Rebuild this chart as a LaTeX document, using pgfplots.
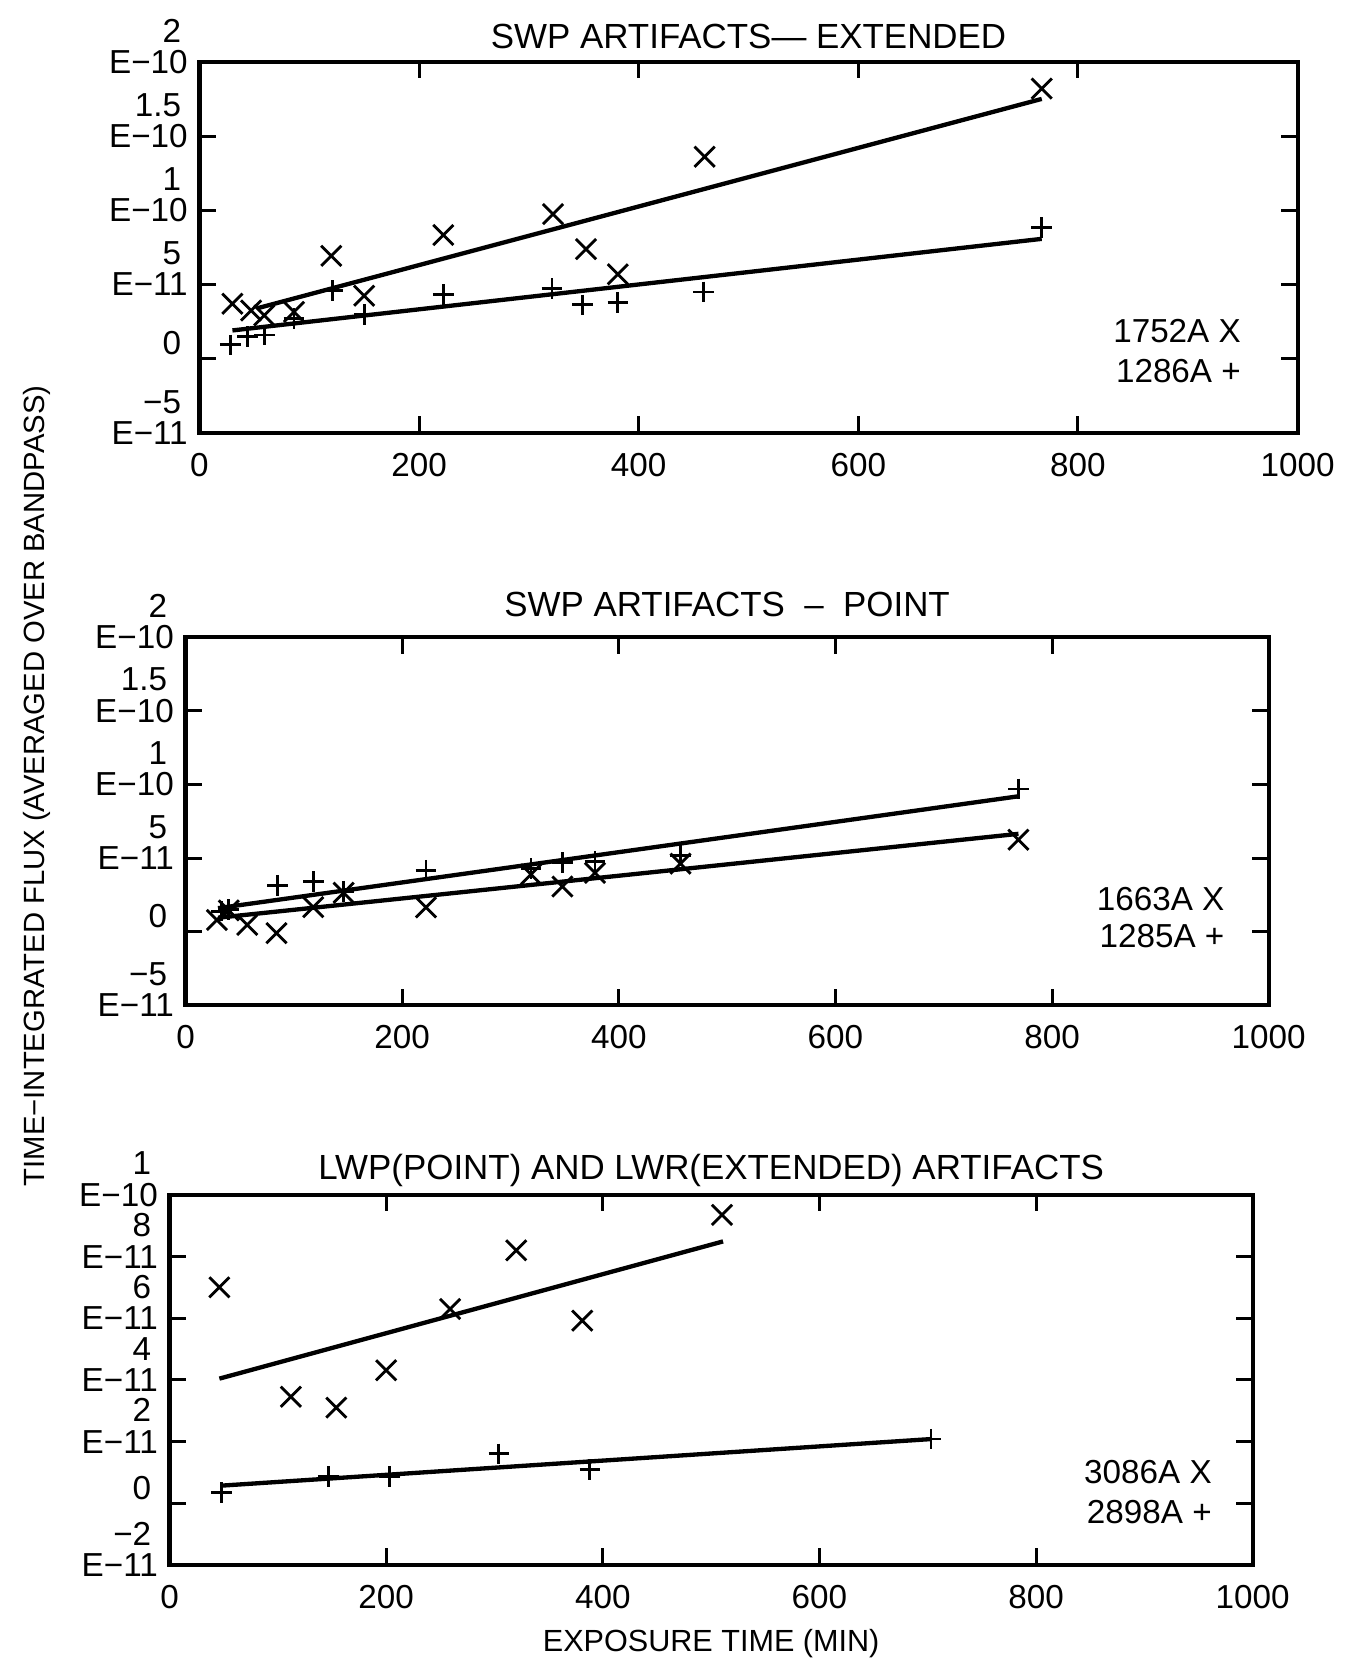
\documentclass[border=0pt]{standalone}
\usepackage{fontspec}
\setmainfont{Liberation Sans}
\usepackage{pgfplots}
\pgfplotsset{compat=1.18}

\newcommand{\tfont}{\fontsize{10.5}{12}\selectfont}
\newcommand{\lfont}{\fontsize{10}{9.4}\selectfont}

\pgfplotsset{
  panel/.style={
    scale only axis,
    anchor=south west,
    xmin=0, xmax=1000,
    xtick={0,200,400,600,800,1000},
    xticklabels={0,200,400,600,800,1000},
    tick align=inside,
    major tick length=5pt,
    axis line style={line width=1.25pt},
    tick style={line width=0.9pt, black},
    tick label style={font=\lfont},
    xticklabel style={yshift=-2.5pt},
    yticklabel style={align=right, yshift=4.7pt},
    clip=false,
  },
  xser/.style={only marks, mark=x, mark size=4.3pt, mark options={line width=0.85pt}, black},
  pser/.style={only marks, mark=+, mark size=3.1pt, mark options={line width=0.85pt}, black},
  fit/.style={line width=1.3pt, black, no marks},
}

\begin{document}
\begin{tikzpicture}
\path (0,0) rectangle (401.1pt,500.7pt);
\node[rotate=90, font=\fontsize{8.8}{10}\selectfont] at (11.1pt,264.3pt) {TIME−INTEGRATED FLUX (AVERAGED OVER BANDPASS)};

% ---------------- Panel 1 ----------------
\begin{axis}[panel, at={(60pt,370.5pt)}, width=330.3pt, height=111.6pt,
  ymin=-5, ymax=20, ytick={-5,0,5,10,15,20},
  yticklabels={{−5\hspace*{2pt}\\E−11},{0\hspace*{2pt}},{5\hspace*{2pt}\\E−11},{1\hspace*{2pt}\\E−10},{1.5\hspace*{2pt}\\E−10},{2\hspace*{2pt}\\E−10}}]
\addplot[xser] coordinates {(30,3.7) (47,3.24) (59,2.91) (86,3.15) (120,6.93) (150,4.24) (222,8.33) (322,9.74) (352,7.38) (381,5.68) (460,13.6) (767,18.2)};
\addplot[pser] coordinates {(28,0.93) (44,1.48) (59,1.59) (86,2.7) (121,4.6) (150,2.97) (222,4.32) (321,4.73) (349,3.62) (381,3.8) (459,4.49) (767,8.83)};
\addplot[fit] coordinates {(53,3.4) (767,17.5)};
\addplot[fit] coordinates {(30,1.9) (767,8.07)};
\node[font=\tfont] at (rel axis cs:0.5,1) [yshift=7.5pt] {SWP ARTIFACTS— EXTENDED};
\node[anchor=east, font=\lfont] at (rel axis cs:0.959,0.274) {1752A X};
\node[anchor=east, font=\lfont] at (rel axis cs:0.959,0.166) {1286A +};
\end{axis}

% ---------------- Panel 2 ----------------
\begin{axis}[panel, at={(55.8pt,198.3pt)}, width=325.8pt, height=110.7pt,
  ymin=-5, ymax=20, ytick={-5,0,5,10,15,20},
  yticklabels={{−5\hspace*{2pt}\\E−11},{0\hspace*{2pt}},{5\hspace*{2pt}\\E−11},{1\hspace*{2pt}\\E−10},{1.5\hspace*{2pt}\\E−10},{2\hspace*{2pt}\\E−10}}]
\addplot[xser] coordinates {(29,0.8) (40,1.45) (57,0.46) (84,-0.1) (118,1.67) (146,2.65) (222,1.65) (319,3.9) (348,3.07) (378,4.0) (457,4.62) (769,6.25)};
\addplot[pser] coordinates {(33,1.4) (40,1.5) (85,3.16) (118,3.42) (146,2.75) (222,4.18) (319,4.3) (348,4.7) (378,4.78) (457,5.17) (769,9.7)};
\addplot[fit] coordinates {(30,1.6) (769,9.2)};
\addplot[fit] coordinates {(30,0.95) (769,6.65)};
\node[font=\tfont] at (rel axis cs:0.5,1) [yshift=10pt] {SWP ARTIFACTS\ \ –\ \ POINT};
\node[anchor=east, font=\lfont] at (rel axis cs:0.97,0.288) {1663A X};
\node[anchor=east, font=\lfont] at (rel axis cs:0.97,0.187) {1285A +};
\end{axis}

% ---------------- Panel 3 ----------------
\begin{axis}[panel, at={(51pt,30pt)}, width=325.8pt, height=111.3pt,
  ymin=-2, ymax=10, ytick={-2,0,2,4,6,8,10},
  yticklabels={{−2\hspace*{2pt}\\E−11},{0\hspace*{2pt}},{2\hspace*{2pt}\\E−11},{4\hspace*{2pt}\\E−11},{6\hspace*{2pt}\\E−11},{8\hspace*{2pt}\\E−11},{1\hspace*{2pt}\\E−10}}]
\addplot[xser] coordinates {(46,7.0) (112,3.45) (154,3.1) (200,4.31) (259,6.3) (320,8.2) (381,5.92) (510,9.35)};
\addplot[pser] coordinates {(48,0.35) (147,0.87) (203,0.87) (304,1.6) (388,1.09) (703,2.08)};
\addplot[fit] coordinates {(46,4.04) (511,8.49)};
\addplot[fit] coordinates {(48,0.57) (703,2.08)};
\node[font=\tfont] at (rel axis cs:0.5,1) [yshift=7.2pt] {LWP(POINT) AND LWR(EXTENDED) ARTIFACTS};
\node[anchor=east, font=\lfont] at (rel axis cs:0.973,0.25) {3086A X};
\node[anchor=east, font=\lfont] at (rel axis cs:0.973,0.143) {2898A +};
\node[font=\fontsize{9.2}{11}\selectfont] at (rel axis cs:0.5,0) [yshift=-23.7pt] {EXPOSURE TIME (MIN)};
\end{axis}
\end{tikzpicture}
\end{document}
